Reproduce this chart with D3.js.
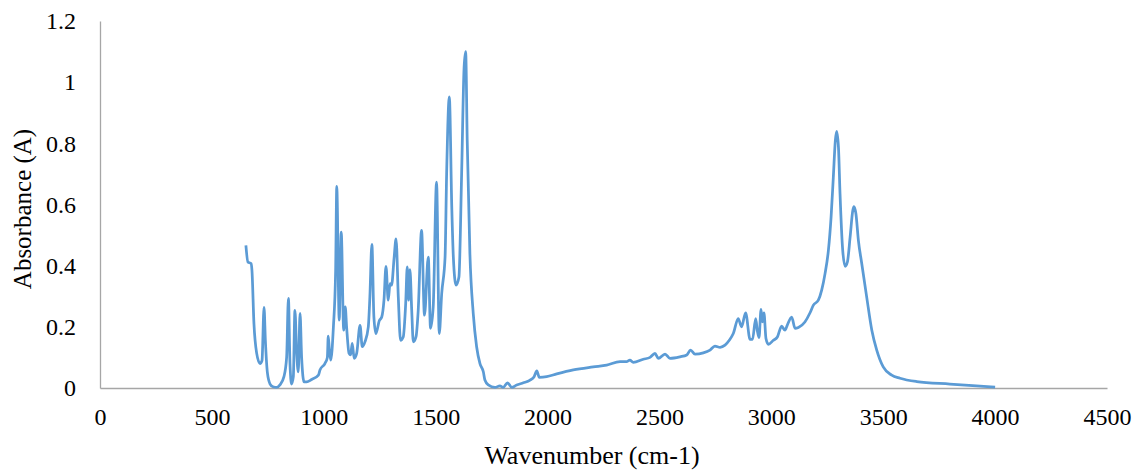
<!DOCTYPE html>
<html>
<head>
<meta charset="utf-8">
<script src="https://cdn.jsdelivr.net/npm/d3@7"></script>
<style>
    html, body { margin: 0; padding: 0; background: #fff; }
    svg { display: block; }
    text { font-family: 'Liberation Serif', 'Times New Roman', serif; fill: #000; }
</style>
</head>
<body>
<svg id="chart"></svg>
<script>
// IR spectrum
const wavenumber = [
    652, 661, 675, 679, 688, 700, 715, 724, 733, 739, 748, 760, 773, 790, 804,
    822, 834, 842, 849, 856, 864, 871, 879, 886, 894, 901, 912, 923, 946, 976,
    983, 1005, 1016, 1020, 1025, 1031, 1043, 1053, 1058, 1069, 1078, 1089, 1096,
    1102, 1113, 1120, 1127, 1136, 1147, 1162, 1172, 1184, 1199, 1206, 1215, 1224,
    1233, 1248, 1259, 1269, 1278, 1288, 1296, 1303, 1314, 1323, 1333, 1343, 1355,
    1366, 1373, 1379, 1385, 1393, 1400, 1412, 1422, 1437, 1450, 1467, 1477, 1489,
    1504, 1516, 1527, 1542, 1549, 1561, 1572, 1579, 1591, 1604, 1616, 1627, 1634,
    1641, 1653, 1668, 1683, 1698, 1713, 1720, 1735, 1765, 1787, 1802, 1821, 1840,
    1862, 1892, 1922, 1940, 1952, 1963, 1996, 2041, 2115, 2204, 2264, 2324, 2353,
    2368, 2383, 2428, 2458, 2480, 2495, 2525, 2547, 2592, 2622, 2639, 2659, 2696,
    2726, 2748, 2771, 2793, 2812, 2830, 2852, 2867, 2885, 2905, 2916, 2930, 2937,
    2945, 2954, 2960, 2967, 2976, 2987, 3009, 3027, 3046, 3061, 3071, 3091, 3106,
    3121, 3150, 3173, 3188, 3210, 3225, 3240, 3255, 3267, 3277, 3286, 3292, 3300,
    3307, 3319, 3330, 3340, 3352, 3364, 3369, 3378, 3389, 3404, 3426, 3449, 3471,
    3500, 3538, 3575, 3650, 3798, 3900, 4000
];
const absorbance = [
    0.466, 0.412, 0.407, 0.385, 0.21, 0.114, 0.08, 0.09, 0.264, 0.156, 0.05, 0.013, 0.004, 0.002, 0.01,
    0.037, 0.10, 0.293, 0.08, 0.013, 0.037, 0.254, 0.114, 0.053, 0.244, 0.10, 0.02, 0.02, 0.028, 0.042,
    0.059, 0.08, 0.10, 0.17, 0.124, 0.091, 0.20, 0.385, 0.659, 0.222, 0.51, 0.189, 0.265,
    0.20, 0.113, 0.108, 0.146, 0.097, 0.113, 0.205, 0.135, 0.151, 0.20, 0.298, 0.47, 0.232,
    0.178, 0.22, 0.232, 0.287, 0.398, 0.287, 0.341, 0.336, 0.423, 0.488, 0.298, 0.156, 0.167,
    0.276, 0.396, 0.287, 0.387, 0.254, 0.151, 0.167, 0.254, 0.515, 0.238, 0.428, 0.195, 0.265,
    0.673, 0.178, 0.309, 0.428, 0.70, 0.952, 0.591, 0.428, 0.336, 0.363, 0.70, 1.048, 1.10,
    0.809, 0.439, 0.243, 0.135, 0.08, 0.053, 0.026, 0.01, 0.002, 0.007, 0.002, 0.017, 0.002,
    0.01, 0.017, 0.026, 0.037, 0.056, 0.035, 0.037, 0.046, 0.059, 0.069, 0.075, 0.086, 0.086,
    0.091, 0.084, 0.094, 0.10, 0.113, 0.097, 0.111, 0.097, 0.102, 0.108, 0.124, 0.111, 0.115,
    0.124, 0.137, 0.133, 0.14, 0.156, 0.178, 0.227, 0.20, 0.246, 0.159, 0.159, 0.227, 0.189,
    0.165, 0.257, 0.216, 0.246, 0.162, 0.143, 0.156, 0.167, 0.202, 0.189, 0.205, 0.232, 0.195,
    0.198, 0.216, 0.246, 0.271, 0.287, 0.32, 0.374, 0.45, 0.559, 0.689, 0.809, 0.839, 0.787,
    0.635, 0.45, 0.398, 0.412, 0.493, 0.58, 0.593, 0.57, 0.483, 0.407, 0.298, 0.189, 0.124,
    0.069, 0.042, 0.032, 0.021, 0.013, 0.008, 0.003
];

const xTicks = [0, 500, 1000, 1500, 2000, 2500, 3000, 3500, 4000, 4500];
const yTicks = [0, 0.2, 0.4, 0.6, 0.8, 1, 1.2];
const yTickLabels = ['0', '0.2', '0.4', '0.6', '0.8', '1', '1.2'];

const width = 1139;
const height = 472;
const marginLeft = 100;
const marginRight = 32;
const marginTop = 21;
const marginBottom = 84;

const data = wavenumber.map((w, i) => ({ w: w, a: absorbance[i] }));

const x = d3.scaleLinear()
    .domain([0, 4500])
    .range([marginLeft, width - marginRight]);

const y = d3.scaleLinear()
    .domain([0, 1.2])
    .range([height - marginBottom, marginTop]);

const svg = d3.select('#chart')
    .attr('width', width)
    .attr('height', height);

// y axis (line + labels, no tick marks)
const yAxis = svg.append('g')
    .attr('transform', `translate(${marginLeft},0)`)
    .call(d3.axisLeft(y).tickValues(yTicks).tickSize(0).tickPadding(24)
        .tickFormat((d, i) => yTickLabels[i]));
yAxis.select('.domain').attr('stroke', '#a6a6a6').attr('stroke-width', 1.3);
yAxis.selectAll('text')
    .style('font-family', "'Liberation Serif', serif")
    .style('font-size', '24px');

// x axis
const xAxis = svg.append('g')
    .attr('transform', `translate(0,${height - marginBottom})`)
    .call(d3.axisBottom(x).tickValues(xTicks).tickSize(0).tickPadding(20)
        .tickFormat(d3.format('d')));
xAxis.select('.domain').attr('stroke', '#a6a6a6').attr('stroke-width', 1.3);
xAxis.selectAll('text')
    .style('font-family', "'Liberation Serif', serif")
    .style('font-size', '24px');

// spectrum
const line = d3.line()
    .x((d) => x(d.w))
    .y((d) => y(d.a))
    .curve(d3.curveMonotoneX);

svg.append('path')
    .datum(data)
    .attr('fill', 'none')
    .attr('stroke', '#5b9bd5')
    .attr('stroke-width', 2.75)
    .attr('stroke-linejoin', 'round')
    .attr('d', line);

// axis titles
svg.append('text')
    .attr('x', 592)
    .attr('y', 464)
    .attr('text-anchor', 'middle')
    .style('font-size', '26px')
    .text('Wavenumber (cm-1)');

svg.append('text')
    .attr('transform', `translate(31,209) rotate(-90)`)
    .attr('text-anchor', 'middle')
    .style('font-size', '25px')
    .text('Absorbance (A)');
</script>
</body>
</html>
